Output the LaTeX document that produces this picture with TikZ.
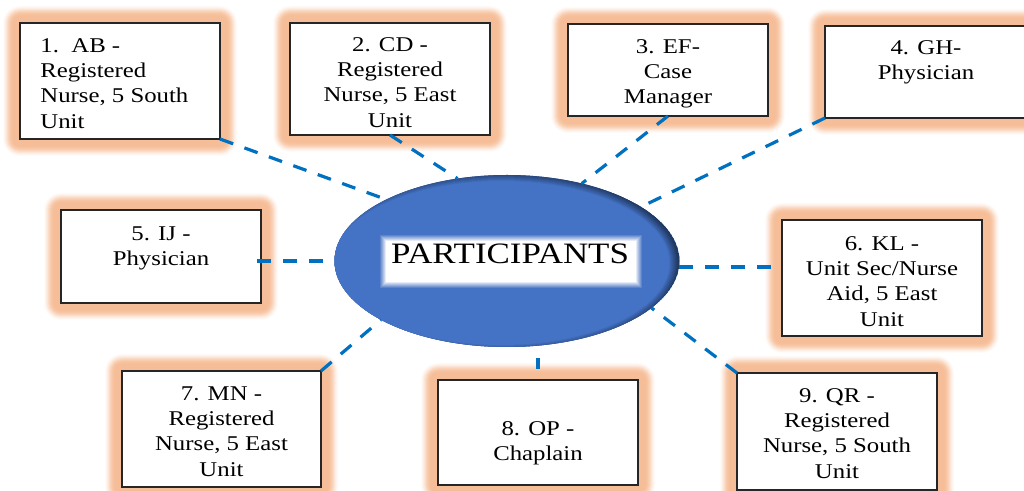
\documentclass[tikz,border=0pt]{standalone}
\usepackage{fontspec}
\newfontfamily\diagfont{Liberation Serif}[FakeStretch=1.18]
\usetikzlibrary{calc,shapes.geometric}
\pgfdeclarelayer{background}
\pgfsetlayers{background,main}

\definecolor{ovalblue}{HTML}{4472C4}
\definecolor{linkblue}{HTML}{0070C0}
\definecolor{glowc}{HTML}{ED7D31}
\colorlet{ovaldark}{ovalblue!50!black}

\tikzset{
  frame/.style={draw=black!85, line width=0.7pt, fill=white, inner sep=0pt,
    outer sep=0pt, minimum width=100pt},
  boxtext/.style={inner sep=0pt, align=center,
    font=\diagfont\fontsize{10.5pt}{12.65pt}\selectfont},
  link/.style={draw=linkblue, line width=1.6pt, dash pattern=on 7pt off 6pt},
}

% soft orange halo behind a box
\newcommand{\glowaround}[1]{%
  \foreach \e/\a in {17/0.03,16/0.045,15/0.06,14/0.075,13/0.085,12/0.09,
                     11/0.085,10/0.075,9/0.06,8/0.04,7/0.02}{%
    \fill[glowc, fill opacity=\a, rounded corners=\e*0.5pt]
      ($(#1.south west)+(-\e,\e)$) rectangle ($(#1.north east)+(\e,-\e)$);}}

\begin{document}
\begin{tikzpicture}[x=0.5pt, y=-0.5pt]
\useasboundingbox (0,0) rectangle (1024,491);

% central oval
\node[ellipse, minimum width=172.5pt, minimum height=86pt, inner sep=0pt,
      outer sep=0pt, fill=ovalblue] (ell) at (507,261) {};
\begin{scope}
  \clip (ell.center) ellipse [x radius=172.5, y radius=86];
  \fill[ovaldark] (ell.center) ellipse [x radius=172.5, y radius=86];
  \foreach \s/\a in {4/0.111,3/0.125,2/0.143,1/0.167,0/0.2,-1/0.25,-2/0.333,-3/0.5,-4/1}{
    \pgfmathsetmacro\rx{172.5+\s}\pgfmathsetmacro\ry{86+\s}
    \fill[ovalblue, fill opacity=\a] ($(ell.center)+(-6,2)$)
      ellipse [x radius=\rx, y radius=\ry];}
\end{scope}
% blurred white plate under the title
\foreach \s/\a in {6/0.143,5/0.167,4/0.2,3/0.25,2/0.333,1/0.5,0/1}
  \fill[white, fill opacity=\a] (386-\s,241-\s) rectangle (636+\s,282+\s);
\node[inner sep=0pt, anchor=base, font=\diagfont\fontsize{14.8pt}{17pt}\selectfont]
  (ptitle) at (510,264) {PARTICIPANTS};

% participant boxes
\node[frame, minimum height=58pt] (b1) at (120,81) {};
\node[frame, minimum height=56pt] (b2) at (390,79) {};
\node[frame, minimum height=46pt] (b3) at (668,70) {};
\node[frame, minimum width=101pt, minimum height=46pt] (b4) at (926,72) {};
\node[frame, minimum height=46.5pt] (b5) at (161,256.5) {};
\node[frame, minimum height=58pt] (b6) at (882,278) {};
\node[frame, minimum width=99.5pt, minimum height=58pt] (b7) at (221.5,429) {};
\node[frame, minimum height=52.5pt] (b8) at (538,432.5) {};
\node[frame, minimum height=58.5pt] (b9) at (837,431.5) {};

\begin{pgfonlayer}{background}
  \foreach \b in {b1,b2,b3,b4,b5,b6,b7,b8,b9}{\glowaround{\b}}
\end{pgfonlayer}

\node[boxtext, anchor=north west, align=left] (t1) at (40,38)
  {1.\ \ AB -\\Registered\\Nurse, 5 South\\Unit};
\node[boxtext, anchor=north] (t2) at (390,37) {2. CD -\\Registered\\Nurse, 5 East\\Unit};
\node[boxtext, anchor=north] (t3) at (668,39) {3. EF-\\Case\\Manager};
\node[boxtext, anchor=north] (t4) at (926,40) {4. GH-\\Physician};
\node[boxtext, anchor=north] (t5) at (161,226) {5. IJ -\\Physician};
\node[boxtext, anchor=north] (t6) at (882,236) {6. KL -\\Unit Sec/Nurse\\Aid, 5 East\\Unit};
\node[boxtext, anchor=north] (t7) at (221.5,386) {7. MN -\\Registered\\Nurse, 5 East\\Unit};
\node[boxtext, anchor=north] (t8) at (538,421) {8. OP -\\Chaplain};
\node[boxtext, anchor=north] (t9) at (837,388) {9. QR -\\Registered\\Nurse, 5 South\\Unit};

% dashed spokes
\draw[link] (b1.south east) -- (ell.153.4);
\draw[link] (b2.south) -- (ell.121.8);
\draw[link] (b3.south) -- (ell.46.5);
\draw[link] (b4.south west) -- (ell.22.5);
\draw[link] ($(b5.east |- ell.west)+(-4,0)$) -- (ell.west);
\draw[link] (ell.-2.3) -- (b6.west |- ell.-2.3);
\draw[link] (b7.north east) -- (ell.205.4);
\draw[link, shorten <=5.5pt, shorten >=5.5pt] (b8.north |- ell.south) -- (b8.north);
\draw[link] (b9.north west) -- (ell.-18.6);
\end{tikzpicture}
\end{document}
